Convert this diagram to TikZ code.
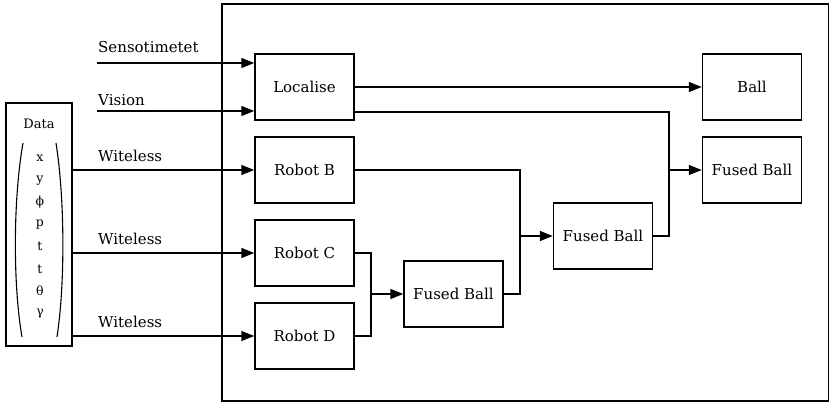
\documentclass[tikz,border=0pt]{standalone}
\usepackage{fontspec}
\setmainfont{DejaVu Serif}
\usetikzlibrary{arrows.meta}

\tikzset{
  blk/.style={draw, line width=1.5pt, minimum width=99pt, minimum height=66pt,
    inner sep=0pt, font=\fontsize{15}{17}\selectfont},
  wire/.style={line width=1.5pt},
  feed/.style={wire, -{Triangle[length=13pt,width=10pt]}},
  lbl/.style={anchor=base west, inner sep=0pt, font=\fontsize{15}{17}\selectfont},
  sym/.style={inner sep=0pt, font=\fontsize{12.5}{14}\selectfont}
}

\begin{document}
\begin{tikzpicture}[x=1pt,y=-1pt]
\useasboundingbox (0,0) rectangle (830,404);

% enclosing frame of the fusion stage
\draw[line width=1.5pt] (222,4) rectangle (828.5,401);

% data source with its state vector
\node[draw, line width=1.5pt, minimum width=66pt, minimum height=243pt, inner sep=0pt]
  (data) at (39,224.5) {};
\node[inner sep=0pt, font=\fontsize{13}{15}\selectfont] (datatitle) at (39,124) {Data};
\draw[line width=1.1pt] (23,143) .. controls (13,200) and (13,285) .. (22,337);
\draw[line width=1.1pt] (56,143) .. controls (65,200) and (65,285) .. (57,337);
\foreach \s [count=\k from 0] in {x,y,ϕ,p,t,t,θ,γ}
  \node[sym] (v\k) at (40,158+22.2*\k) {\s};

% processing blocks
\node[blk] (loc)    at (304.5,87)  {Localise};
\node[blk] (robB)   at (304.5,170) {Robot B};
\node[blk] (robC)   at (304.5,253) {Robot C};
\node[blk] (robD)   at (304.5,336) {Robot D};
\node[blk] (fusedL) at (453.5,294) {Fused Ball};
\node[blk] (fusedM) at (603,236)   {Fused Ball};
\node[blk] (ball)   at (752,87)    {Ball};
\node[blk] (fusedR) at (752,170)   {Fused Ball};

% input labels
\node[lbl] (tSens) at (98,53)  {Sensotimetet};
\node[lbl] (tVis)  at (98,105) {Vision};
\node[lbl] (tW1)   at (98,161) {Witeless};
\node[lbl] (tW2)   at (98,244) {Witeless};
\node[lbl] (tW3)   at (98,327) {Witeless};

% inputs
\coordinate (sensIn) at (97,63);
\coordinate (visIn)  at (97,111);
\draw[feed] (sensIn) -- (sensIn -| loc.west);
\draw[feed] (visIn) -- (visIn -| loc.west);
\draw[feed] (data.east |- robB.west) -- (robB.west);
\draw[feed] (data.east |- robC.west) -- (robC.west);
\draw[feed] (data.east |- robD.west) -- (robD.west);

% Robot C and D merge
\coordinate (jCD) at (371,0);
\draw[wire] (robC.east) -- (jCD |- robC.east) -- (jCD |- robD.east) -- (robD.east);
\draw[feed] (jCD |- fusedL.west) -- (fusedL.west);

% Robot B merges with the first fused estimate
\coordinate (jB) at (520,0);
\draw[wire] (robB.east) -- (jB |- robB.east) -- (jB |- fusedL.east) -- (fusedL.east);
\draw[feed] (jB |- fusedM.west) -- (fusedM.west);

% localisation outputs
\draw[feed] (loc.east) -- (ball.west);
\coordinate (jL) at (669,112);
\draw[wire] (loc.east |- jL) -- (jL) -- (jL |- fusedM.east) -- (fusedM.east);
\draw[feed] (jL |- fusedR.west) -- (fusedR.west);
\end{tikzpicture}
\end{document}
